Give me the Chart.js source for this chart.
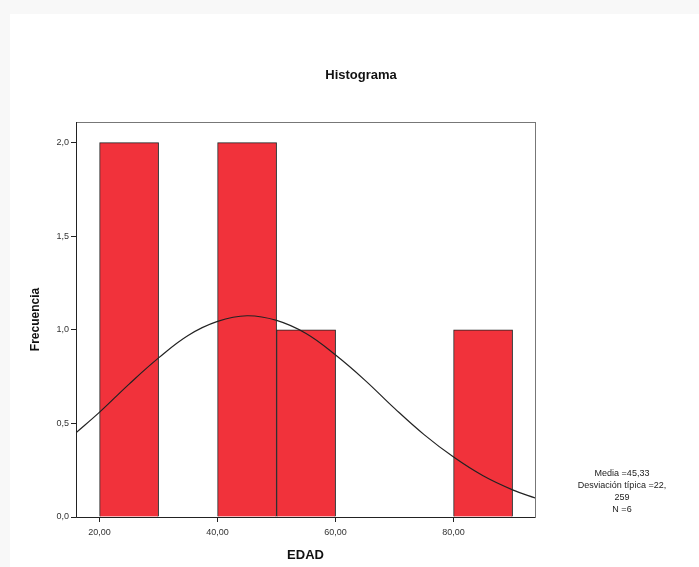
<!DOCTYPE html>
<html lang="es">
<head>
<meta charset="UTF-8">
<title>Histograma</title>
<script src="https://cdn.jsdelivr.net/npm/chart.js"></script>
<style>
  html, body { margin: 0; padding: 0; background: #fff; }
  #wrap { width: 699px; height: 567px; position: relative; }
</style>
</head>
<body>
<div id="wrap"><canvas id="histo" width="699" height="567"></canvas></div>
<script>
// bins of EDAD (centre of each 10-year bin) and their frequency
const binCenters = [25, 45, 55, 85];
const frequencies = [2, 2, 1, 1];

// normal curve
const curveX = [16, 20, 25, 30, 35, 40, 45, 50, 55, 60, 65, 70, 75, 80, 85, 90, 94];
const curveY = [0.45, 0.56, 0.71, 0.85, 0.97, 1.045, 1.075, 1.05, 0.98, 0.865, 0.73, 0.58, 0.44, 0.32, 0.22, 0.145, 0.1];

const xTicks = [20, 40, 60, 80];
const yTicks = [0, 0.5, 1, 1.5, 2];
const statLines = ['Media =45,33', 'Desviación típica =22,', '259', 'N =6'];

const FONT = '"Liberation Sans", Arial, sans-serif';

const decorations = {
    id: 'decorations',
    beforeDraw(chart) {
        const ctx = chart.ctx;
        ctx.save();
        ctx.fillStyle = '#fff';
        ctx.fillRect(0, 0, chart.width, chart.height);
        ctx.fillStyle = '#f8f8f8';
        ctx.fillRect(0, 0, chart.width, 14);
        ctx.fillRect(0, 0, 10, chart.height);
        ctx.restore();
    },
    afterDraw(chart) {
        const ctx = chart.ctx;
        const a = chart.chartArea;
        ctx.save();
        // frame
        ctx.strokeStyle = '#777';
        ctx.lineWidth = 1;
        ctx.strokeRect(a.left + 0.5, a.top + 0.5, a.right - a.left, a.bottom - a.top);
        ctx.strokeStyle = '#222';
        ctx.beginPath();
        ctx.moveTo(a.left + 0.5, a.top);
        ctx.lineTo(a.left + 0.5, a.bottom + 0.5);
        ctx.lineTo(a.right, a.bottom + 0.5);
        ctx.stroke();
        // title
        ctx.fillStyle = '#111';
        ctx.textAlign = 'center';
        ctx.textBaseline = 'middle';
        ctx.font = 'bold 13px ' + FONT;
        ctx.fillText('Histograma', 361, 75);
        // statistics
        ctx.font = '9px ' + FONT;
        ctx.fillStyle = '#222';
        statLines.forEach((t, i) => ctx.fillText(t, 622, 474 + i * 12));
        ctx.restore();
    }
};

new Chart(document.getElementById('histo'), {
    data: {
        datasets: [
            {
                type: 'line',
                data: curveX.map((x, i) => ({x: x, y: curveY[i]})),
                borderColor: '#222',
                borderWidth: 1.2,
                pointRadius: 0,
                tension: 0.4,
                fill: false
            },
            {
                type: 'bar',
                data: binCenters.map((x, i) => ({x: x, y: frequencies[i]})),
                backgroundColor: '#f1323b',
                borderColor: '#222',
                borderWidth: 1,
                barPercentage: 1,
                categoryPercentage: 1
            }
        ]
    },
    options: {
        responsive: false,
        animation: false,
        layout: { padding: { left: 0, top: 122, right: 164, bottom: 0 } },
        plugins: {
            legend: { display: false },
            tooltip: { enabled: false }
        },
        scales: {
            x: {
                type: 'linear',
                min: 16,
                max: 93.8,
                offset: false,
                afterBuildTicks: s => { s.ticks = xTicks.map(v => ({value: v})); },
                afterFit: s => { s.height = 50; },
                grid: { offset: false, drawOnChartArea: false, drawTicks: true, tickLength: 5, color: '#222' },
                border: { display: false },
                ticks: {
                    font: { size: 9, family: FONT },
                    color: '#333',
                    padding: 5,
                    maxRotation: 0,
                    callback: v => v.toFixed(2).replace('.', ',')
                },
                title: {
                    display: true,
                    text: 'EDAD',
                    font: { size: 13, weight: 'bold', family: FONT },
                    color: '#111',
                    padding: { top: 0, bottom: 4 }
                }
            },
            y: {
                type: 'linear',
                min: 0,
                max: 2.11,
                afterBuildTicks: s => { s.ticks = yTicks.map(v => ({value: v})); },
                afterFit: s => { s.width = 76; },
                grid: { drawOnChartArea: false, drawTicks: true, tickLength: 5, color: '#222' },
                border: { display: false },
                ticks: {
                    font: { size: 9, family: FONT },
                    color: '#333',
                    padding: 2,
                    callback: v => v.toFixed(1).replace('.', ',')
                },
                title: {
                    display: true,
                    text: 'Frecuencia',
                    font: { size: 12, weight: 'bold', family: FONT },
                    color: '#111',
                    padding: { top: 28, bottom: 0 }
                }
            }
        }
    },
    plugins: [decorations]
});
</script>
</body>
</html>
